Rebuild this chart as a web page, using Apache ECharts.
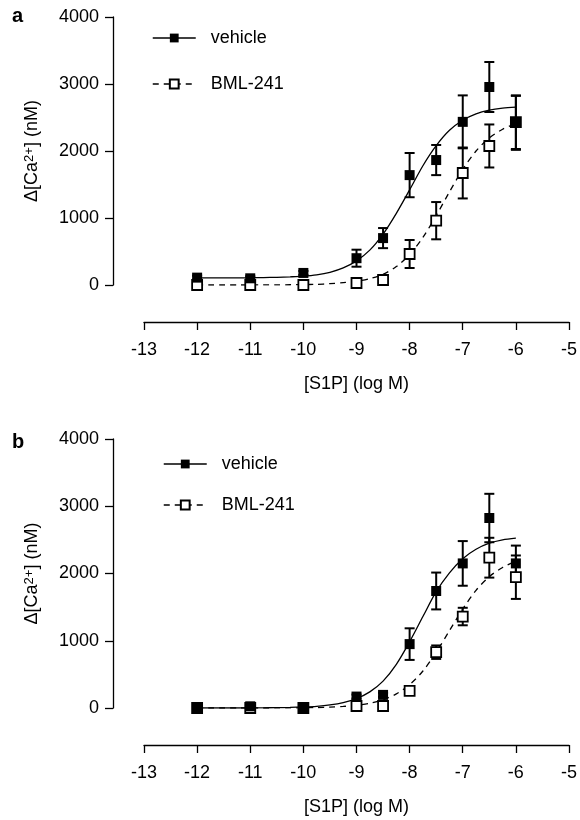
<!DOCTYPE html>
<html lang="en">
<head>
<meta charset="UTF-8">
<title>S1P Ca2+ dose response</title>
<script src="https://cdn.jsdelivr.net/npm/echarts@6.0.0/dist/echarts.min.js"></script>
<style>
  html, body { margin: 0; padding: 0; background: #fff; }
  #main { width: 580px; height: 820px; }
</style>
</head>
<body>
<div id="main"></div>
<script>
// log[S1P] of the measured points
var doses = [-12, -11, -10, -9, -8.5, -8, -7.5, -7, -6.5, -6];

// panel a
var vehA = [110, 100, 180, 400, 700, 1640, 1865, 2435, 2955, 2420];
var vehAErr = [30, 30, 30, 127, 150, 330, 225, 395, 373, 403];
var bmlA = [0, 0, 0, 30, 75, 463, 960, 1672, 2075, 2430];
var bmlAErr = [20, 20, 20, 20, 30, 209, 278, 380, 321, 400];

// panel b
var vehB = [10, 25, 5, 170, 195, 950, 1740, 2150, 2825, 2150];
var vehBErr = [20, 20, 20, 30, 30, 235, 274, 332, 360, 265];
var bmlB = [0, 0, 0, 30, 30, 255, 830, 1360, 2235, 1945];
var bmlBErr = [20, 20, 20, 20, 20, 30, 100, 130, 296, 323];

// fitted curves, every 0.25 log unit
var curveX = [-12, -11.75, -11.5, -11.25, -11, -10.75, -10.5, -10.25, -10,
  -9.75, -9.5, -9.25, -9, -8.75, -8.5, -8.25, -8, -7.75, -7.5, -7.25, -7,
  -6.75, -6.5, -6.25, -6];
var fitVehA = [105, 105, 106, 107, 108, 111, 115, 122, 132,
  152, 190, 255, 360, 520, 760, 1070, 1420, 1780, 2080, 2310, 2460,
  2555, 2610, 2640, 2655];
var fitBmlA = [0, 0, 0, 0, 0, 1, 2, 4, 6,
  10, 20, 35, 55, 95, 160, 275, 455, 710, 1035, 1390, 1725,
  2000, 2195, 2325, 2410];
var fitVehB = [0, 0, 0, 0, 0, 2, 5, 9, 15,
  25, 45, 80, 140, 240, 400, 650, 985, 1360, 1730, 2010, 2220,
  2360, 2450, 2500, 2525];
var fitBmlB = [0, 0, 0, 0, 0, 0, 1, 2, 3,
  6, 13, 23, 40, 71, 122, 210, 347, 550, 828, 1150, 1472,
  1750, 1953, 2090, 2180];

var xTicks = { min: -13, max: -5, interval: 1 };
var yTicks = { min: 0, max: 4000, interval: 1000 };

var chart = echarts.init(document.getElementById('main'));
var FONT = "'Liberation Sans', Arial, sans-serif";

function pairs(xs, ys) {
  return xs.map(function (x, i) { return [x, ys[i]]; });
}
function bars(xs, ys, es) {
  return xs.map(function (x, i) { return [x, ys[i] - es[i], ys[i] + es[i]]; });
}

function renderErr(params, api) {
  var lo = api.coord([api.value(0), api.value(1)]);
  var hi = api.coord([api.value(0), api.value(2)]);
  var w = 5;
  var st = { stroke: '#000', lineWidth: 2 };
  return {
    type: 'group',
    children: [
      { type: 'line', shape: { x1: hi[0], y1: hi[1], x2: lo[0], y2: lo[1] }, style: st },
      { type: 'line', shape: { x1: hi[0] - w, y1: hi[1], x2: hi[0] + w, y2: hi[1] }, style: st },
      { type: 'line', shape: { x1: lo[0] - w, y1: lo[1], x2: lo[0] + w, y2: lo[1] }, style: st }
    ]
  };
}

var filled = { color: '#000', opacity: 1 };
var open = { color: '#fff', borderColor: '#000', borderWidth: 1.8, opacity: 1 };

function panelSeries(idx, fitVeh, fitBml, veh, vehErr, bml, bmlErr) {
  return [
    {
      name: 'vehicle', type: 'line', xAxisIndex: idx, yAxisIndex: idx,
      data: pairs(curveX, fitVeh), smooth: 0.3,
      showSymbol: false, symbol: 'rect', itemStyle: filled,
      lineStyle: { color: '#000', width: 1.3 }, silent: true, z: 2
    },
    {
      name: 'BML-241', type: 'line', xAxisIndex: idx, yAxisIndex: idx,
      data: pairs(curveX, fitBml), smooth: 0.3,
      showSymbol: false, symbol: 'rect', itemStyle: open,
      lineStyle: { color: '#000', width: 1.3, type: [6, 5] }, silent: true, z: 2
    },
    {
      name: 'BML-241', type: 'custom', xAxisIndex: idx, yAxisIndex: idx,
      data: bars(doses, bml, bmlErr), renderItem: renderErr,
      encode: { x: 0, y: [1, 2] }, silent: true, z: 3
    },
    {
      name: 'vehicle', type: 'custom', xAxisIndex: idx, yAxisIndex: idx,
      data: bars(doses, veh, vehErr), renderItem: renderErr,
      encode: { x: 0, y: [1, 2] }, silent: true, z: 3
    },
    {
      name: 'BML-241', type: 'scatter', xAxisIndex: idx, yAxisIndex: idx,
      data: pairs(doses, bml), symbol: 'rect', symbolSize: 10,
      itemStyle: open, silent: true, z: 4
    },
    {
      name: 'vehicle', type: 'scatter', xAxisIndex: idx, yAxisIndex: idx,
      data: pairs(doses, veh), symbol: 'rect', symbolSize: 10,
      itemStyle: filled, silent: true, z: 5
    }
  ];
}

function xAxisOf(idx) {
  return {
    type: 'value', gridIndex: idx, min: xTicks.min, max: xTicks.max, interval: xTicks.interval,
    offset: 37,
    name: '[S1P] (log M)', nameLocation: 'middle', nameGap: 53,
    nameTextStyle: { fontSize: 18, color: '#000', fontFamily: FONT },
    axisLine: { show: true, onZero: false, lineStyle: { color: '#000', width: 1.3 } },
    axisTick: { show: true, length: 8, lineStyle: { color: '#000', width: 1.3 } },
    axisLabel: { fontSize: 18, color: '#000', margin: 19, fontFamily: FONT },
    splitLine: { show: false }
  };
}

function yAxisOf(idx) {
  return {
    type: 'value', gridIndex: idx, min: yTicks.min, max: yTicks.max, interval: yTicks.interval,
    offset: 31,
    name: '{a|Δ[Ca}{b|2+}{a|] (nM)}', nameLocation: 'middle', nameGap: 72,
    nameTextStyle: {
      color: '#000', fontFamily: FONT,
      rich: {
        a: { fontSize: 18, color: '#000', fontFamily: FONT },
        b: { fontSize: 13, color: '#000', fontFamily: FONT, verticalAlign: 'top' }
      }
    },
    axisLine: { show: true, onZero: false, lineStyle: { color: '#000', width: 1.3 } },
    axisTick: { show: true, length: 8, lineStyle: { color: '#000', width: 1.3 } },
    axisLabel: {
      fontSize: 18, color: '#000', margin: 14, fontFamily: FONT,
      formatter: function (v) { return String(v); }
    },
    splitLine: { show: false }
  };
}

function legendOf(name, left, top) {
  return {
    data: [name], left: left, top: top, padding: 0,
    itemWidth: 43, itemHeight: 11, selectedMode: false,
    lineStyle: { width: 1.5 },
    textStyle: { fontSize: 18, color: '#000', fontFamily: FONT, padding: [0, 0, 0, 10] }
  };
}

var option = {
  animation: false,
  backgroundColor: '#fff',
  textStyle: { fontFamily: FONT },
  title: [
    { text: 'a', left: 12, top: 6, padding: 0, textStyle: { fontSize: 20, fontWeight: 'bold', color: '#000', fontFamily: FONT } },
    { text: 'b', left: 12, top: 432, padding: 0, textStyle: { fontSize: 20, fontWeight: 'bold', color: '#000', fontFamily: FONT } }
  ],
  legend: [
    legendOf('vehicle', 152, 29),
    legendOf('BML-241', 152, 75),
    legendOf('vehicle', 163, 455),
    legendOf('BML-241', 163, 496)
  ],
  grid: [
    { left: 144, right: 10, top: 17, height: 268 },
    { left: 144, right: 10, top: 439, height: 269 }
  ],
  xAxis: [xAxisOf(0), xAxisOf(1)],
  yAxis: [yAxisOf(0), yAxisOf(1)],
  series: panelSeries(0, fitVehA, fitBmlA, vehA, vehAErr, bmlA, bmlAErr)
    .concat(panelSeries(1, fitVehB, fitBmlB, vehB, vehBErr, bmlB, bmlBErr))
};

chart.setOption(option);
</script>
</body>
</html>
